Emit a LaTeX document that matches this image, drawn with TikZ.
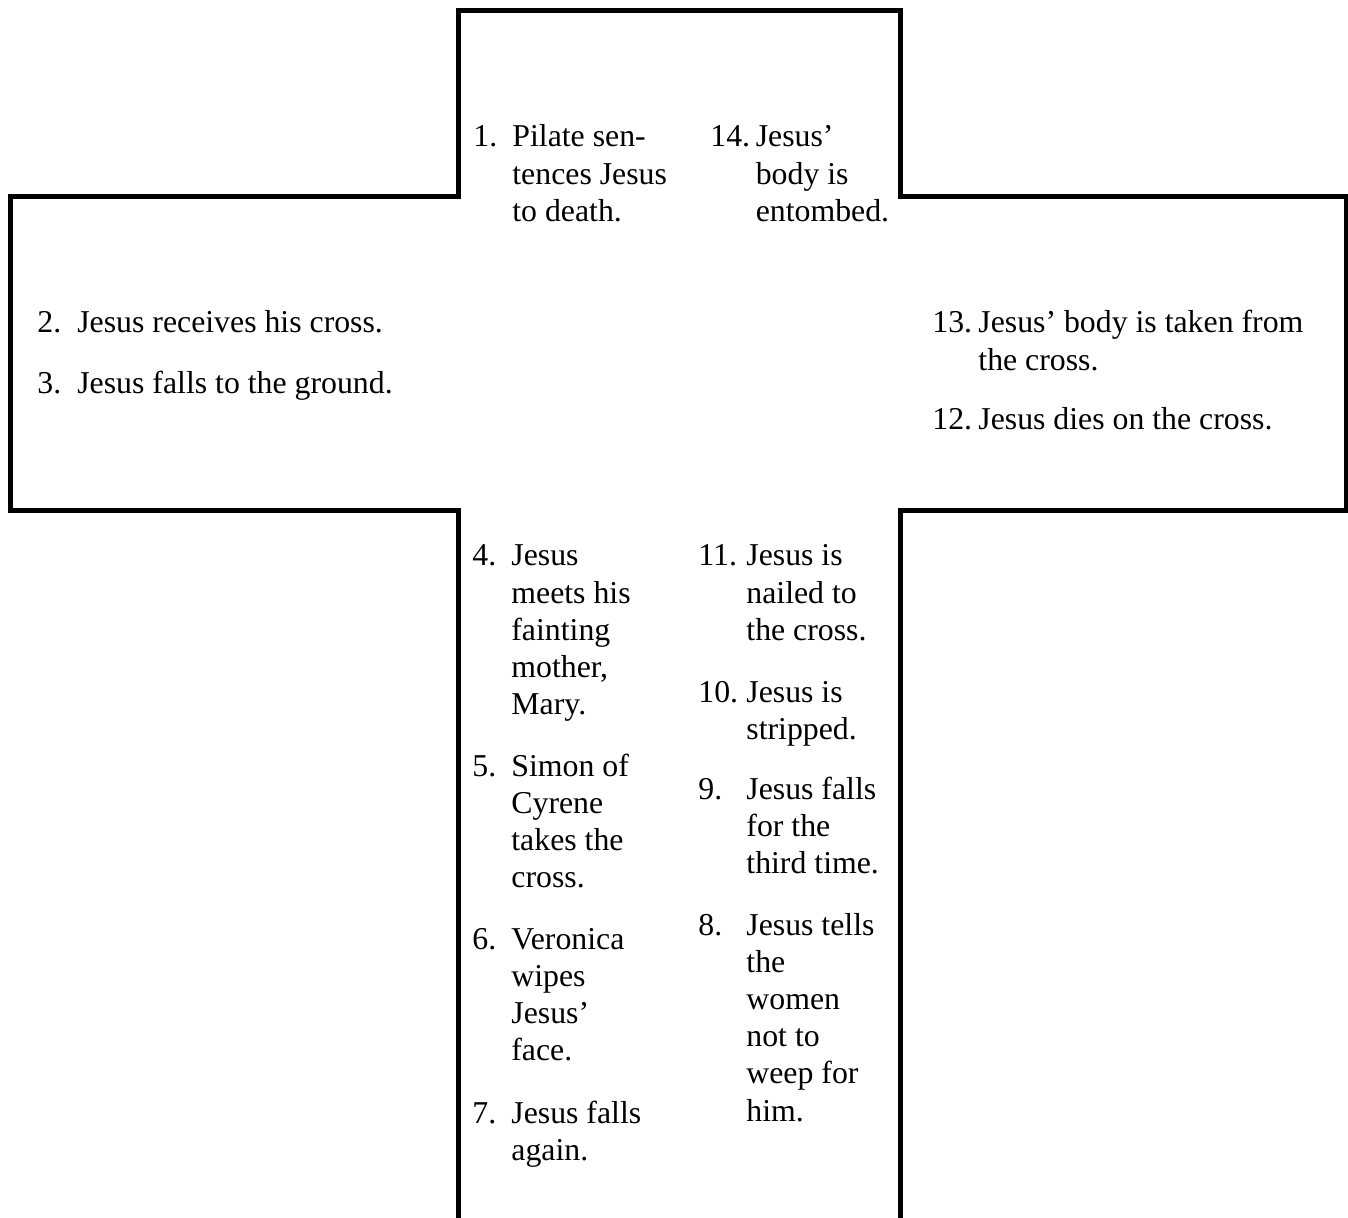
\documentclass[tikz,border=0pt]{standalone}
\usepackage{fontspec}
\setmainfont{Liberation Serif}
\usepackage{tikz}
\tikzset{
    station/.style={
        anchor=base west,
        inner sep=0pt,
        font=\fontsize{15.9}{18.6}\selectfont
    },
    outline/.style={
        draw=black,
        line width=2.5pt
    }
}
% label box, number, lines of the station
\newcommand{\stationtext}[3]{\makebox[#1][l]{#2}\parbox[t]{6cm}{\raggedright #3}}

\begin{document}
\begin{tikzpicture}[x=0.5pt, y=-0.5pt]
    \useasboundingbox (0,0) rectangle (1348,1218);

    % the cross, open at the foot
    \draw[outline] (458,1230) -- (458,511) -- (10,511) -- (10,197) -- (458,197)
        -- (458,11) -- (900,11) -- (900,197) -- (1346,197) -- (1346,511)
        -- (900,511) -- (900,1230);

    % head
    \node[station] (st1) at (473,147) {\stationtext{19.5pt}{1.}{Pilate sen-\\tences Jesus\\to death.}};
    \node[station] (st14) at (710,147) {\stationtext{22.7pt}{14.}{Jesus'\\body is\\entombed.}};

    % left arm
    \node[station] (st2) at (37,333) {\stationtext{20pt}{2.}{Jesus receives his cross.}};
    \node[station] (st3) at (37,394) {\stationtext{20pt}{3.}{Jesus falls to the ground.}};

    % right arm
    \node[station] (st13) at (932,333) {\stationtext{23pt}{13.}{Jesus' body is taken from\\the cross.}};
    \node[station] (st12) at (932,430) {\stationtext{23pt}{12.}{Jesus dies on the cross.}};

    % stem, left column
    \node[station] (st4) at (472,566) {\stationtext{19.5pt}{4.}{Jesus\\meets his\\fainting\\mother,\\Mary.}};
    \node[station] (st5) at (472,776) {\stationtext{19.5pt}{5.}{Simon of\\Cyrene\\takes the\\cross.}};
    \node[station] (st6) at (472,949) {\stationtext{19.5pt}{6.}{Veronica\\wipes\\Jesus'\\face.}};
    \node[station] (st7) at (472,1123) {\stationtext{19.5pt}{7.}{Jesus falls\\again.}};

    % stem, right column
    \node[station] (st11) at (698,566) {\stationtext{24pt}{11.}{Jesus is\\nailed to\\the cross.}};
    \node[station] (st10) at (698,702) {\stationtext{24pt}{10.}{Jesus is\\stripped.}};
    \node[station] (st9) at (698,799) {\stationtext{24pt}{9.}{Jesus falls\\for the\\third time.}};
    \node[station] (st8) at (698,935) {\stationtext{24pt}{8.}{Jesus tells\\the\\women\\not to\\weep for\\him.}};
\end{tikzpicture}
\end{document}
